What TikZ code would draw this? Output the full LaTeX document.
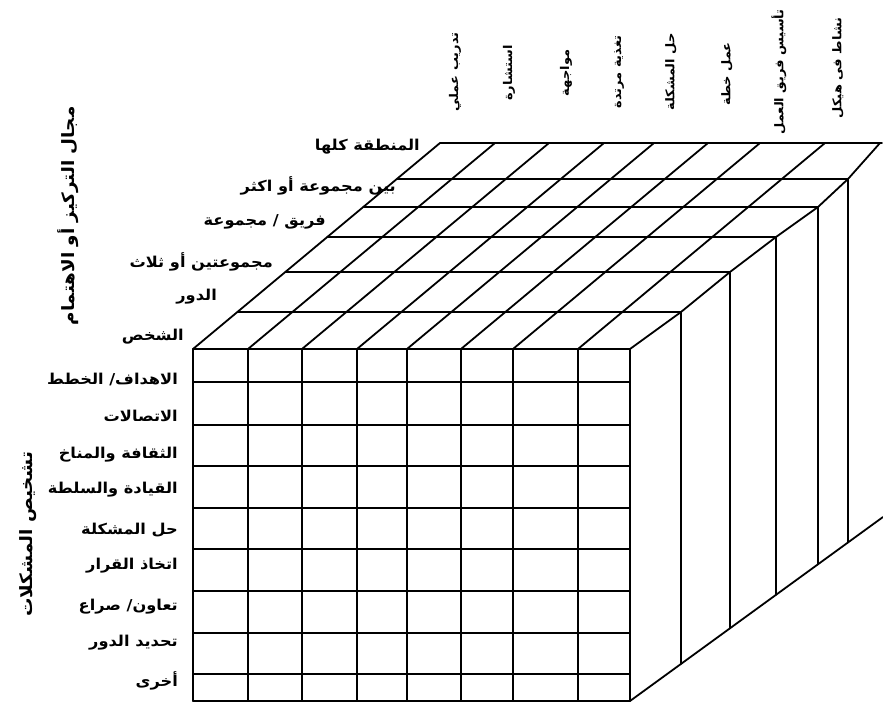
\documentclass[tikz,border=0pt]{standalone}
\usepackage{fontspec}
\TeXXeTstate=1
\newfontfamily\arabicfont[Script=Arabic,FakeStretch=1.08]{DejaVu Sans}
\usetikzlibrary{positioning}
\newcommand{\rtl}[1]{\beginR #1\endR}
\tikzset{gridline/.style={line width=1.8pt,line cap=round,line join=round},
  sidelbl/.style={anchor=east,inner sep=0pt,font=\arabicfont\bfseries\fontsize{15}{17}\selectfont},
  toplbl/.style={rotate=90,inner sep=0pt,font=\arabicfont\bfseries\fontsize{12}{14}\selectfont},
  axistitle/.style={rotate=90,inner sep=0pt,font=\arabicfont\bfseries\fontsize{17}{19}\selectfont}}

\begin{document}
\begin{tikzpicture}[x=1pt,y=-1pt]
\useasboundingbox (0,0) rectangle (883,708);
% front face
\foreach \cx in {193,248,302,357,407,461,513,578,630}
  \draw[gridline] (\cx,349) -- (\cx,701);
\foreach \ry in {349,382,425,466,508,549,591,633,674,701}
  \draw[gridline] (193,\ry) -- (630,\ry);
% top face
\foreach \cx in {193,248,302,357,407,461,513,578}
  \draw[gridline] (\cx,349) -- ++(247,-206);
\draw[gridline] (630,349) -- (681,312) -- (730,272) -- (776,237) -- (818,207) -- (848,179) -- (880,143);
\draw[gridline] (440,143) -- (882,143);
% depth rows and right face
\foreach \ry/\ex in {312/681,272/730,237/776,207/818,179/848}
  \draw[gridline] ({193+1.2*(349-\ry)},\ry) -- (\ex,\ry) -- (\ex,{701-0.728*(\ex-630)});
\draw[gridline] (630,701) -- (883,517);

% focus of attention
\node[sidelbl] (whole) at (420,147) {\rtl{المنطقة كلها}};
\node[sidelbl] (inter) at (396,186) {\rtl{بين مجموعة أو اكثر}};
\node[sidelbl] (team) at (326,222) {\rtl{فريق / مجموعة}};
\node[sidelbl] (dyad) at (273,262) {\rtl{مجموعتين أو ثلاث}};
\node[sidelbl] (role) at (217,297) {\rtl{الدور}};
\node[sidelbl] (person) at (184,337) {\rtl{الشخص}};

% diagnosed problems
\node[sidelbl] (goals) at (178,379) {\rtl{الاهداف/ الخطط}};
\node[sidelbl] (comm) at (178,416) {\rtl{الاتصالات}};
\node[sidelbl] (culture) at (178,455) {\rtl{الثقافة والمناخ}};
\node[sidelbl] (lead) at (178,490) {\rtl{القيادة والسلطة}};
\node[sidelbl] (probsolve) at (178,530) {\rtl{حل المشكلة}};
\node[sidelbl] (decide) at (178,566) {\rtl{اتخاذ القرار}};
\node[sidelbl] (coop) at (178,607) {\rtl{تعاون/ صراع}};
\node[sidelbl] (roledef) at (178,643) {\rtl{تحديد الدور}};
\node[sidelbl] (other) at (178,681) {\rtl{أخرى}};

% modes of intervention
\node[toplbl] (train) at (455,72) {\rtl{تدريب عملي}};
\node[toplbl] (consult) at (509,73) {\rtl{استشارة}};
\node[toplbl] (confront) at (566,73) {\rtl{مواجهة}};
\node[toplbl] (feedback) at (619,72) {\rtl{تغذية مرتدة}};
\node[toplbl] (solve) at (671,72) {\rtl{حل المشكلة}};
\node[toplbl] (plan) at (727,74) {\rtl{عمل خطة}};
\node[toplbl] (taskforce) at (779,72) {\rtl{تأسيس فريق العمل}};
\node[toplbl] (struct) at (838,68) {\rtl{نشاط فى هيكل}};

% axis titles
\node[axistitle] (focus) at (68,216) {\rtl{مجال التركيز أو الاهتمام}};
\node[axistitle] (diag) at (28,534) {\rtl{تشخيص المشكلات}};
\end{tikzpicture}
\end{document}
